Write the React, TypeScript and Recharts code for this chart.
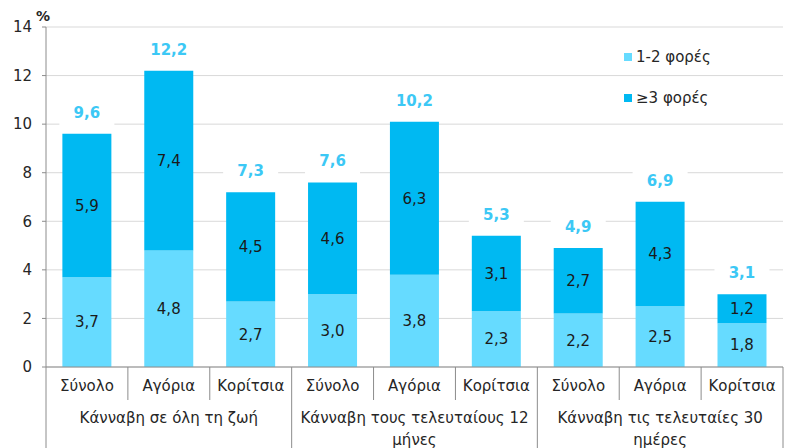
import {
  Bar,
  BarChart,
  CartesianGrid,
  LabelList,
  Legend,
  XAxis,
  YAxis,
} from "recharts";

const categories = [
  "Σύνολο", "Αγόρια", "Κορίτσια",
  "Σύνολο", "Αγόρια", "Κορίτσια",
  "Σύνολο", "Αγόρια", "Κορίτσια",
];
const groups = [
  ["Κάνναβη σε όλη τη ζωή"],
  ["Κάνναβη τους τελευταίους 12", "μήνες"],
  ["Κάνναβη τις τελευταίες 30", "ημέρες"],
];
const once = [3.7, 4.8, 2.7, 3.0, 3.8, 2.3, 2.2, 2.5, 1.8]; // 1-2 φορές
const often = [5.9, 7.4, 4.5, 4.6, 6.3, 3.1, 2.7, 4.3, 1.2]; // ≥3 φορές
const totals = [9.6, 12.2, 7.3, 7.6, 10.2, 5.3, 4.9, 6.9, 3.1];
const yTicks = [0, 2, 4, 6, 8, 10, 12, 14];

const series = [
  { key: "once", name: "1-2 φορές", color: "#66DBFF" },
  { key: "often", name: "≥3 φορές", color: "#00B9F2" },
];

const data = categories.map((name, i) => ({
  name,
  once: once[i],
  often: often[i],
  total: totals[i],
}));

const W = 788;
const H = 448;
const M = { top: 27, right: 5, left: 0, bottom: 0 };
const Y_W = 46;
const X1_H = 33;
const X2_H = 48;
const PLOT_BOTTOM = H - X1_H - X2_H;
const BAND = (W - Y_W - M.right - M.left) / categories.length;
const FONT = "'DejaVu Sans', sans-serif";
const TXT = "#262626";
const LINE = "#8c8c8c";

const fmt = (v: any) => Number(v).toFixed(1).replace(".", ",");

const SubTick = (props: any) => {
  const { x, index } = props;
  return (
    <g>
      {index % 3 !== 0 && (
        <line x1={x - BAND / 2} x2={x - BAND / 2} y1={PLOT_BOTTOM} y2={PLOT_BOTTOM + X1_H} stroke={LINE} />
      )}
      <text x={x} y={PLOT_BOTTOM + 19} textAnchor="middle" dominantBaseline="central" fontSize={15} fill={TXT}>
        {categories[index]}
      </text>
    </g>
  );
};

const GroupTick = (props: any) => {
  const { x, index } = props;
  const g = Math.floor(index / 3);
  return (
    <g>
      {index % 3 === 0 && (
        <line x1={x - BAND / 2} x2={x - BAND / 2} y1={PLOT_BOTTOM} y2={H} stroke={LINE} />
      )}
      {index === categories.length - 1 && (
        <line x1={x + BAND / 2} x2={x + BAND / 2} y1={PLOT_BOTTOM} y2={H} stroke={LINE} />
      )}
      {index % 3 === 1 &&
        groups[g].map((line, j) => (
          <text key={j} x={x} y={PLOT_BOTTOM + 51 + j * 22} textAnchor="middle" dominantBaseline="central" fontSize={15} fill={TXT}>
            {line}
          </text>
        ))}
    </g>
  );
};

const TotalLabel = (props: any) => {
  const { x, y, width, value } = props;
  const cx = x + width / 2;
  const cy = y - 21;
  return (
    <g>
      <rect x={cx - width / 2 - 3} y={cy - 12} width={width + 6} height={26} fill="#fff" />
      <text x={cx} y={cy} textAnchor="middle" dominantBaseline="central" fontSize={15} fontWeight="bold" fill="#3CC8F5">
        {fmt(value)}
      </text>
    </g>
  );
};

const LegendBox = () => (
  <div style={{ fontFamily: FONT, fontSize: 15, color: TXT }}>
    {series.map((s) => (
      <div key={s.key} style={{ display: "flex", alignItems: "center", height: 41 }}>
        <span style={{ width: 8, height: 8, background: s.color, marginRight: 4 }} />
        {s.name}
      </div>
    ))}
  </div>
);

export default function App() {
  return (
    <div style={{ position: "absolute", left: 0, top: 0, background: "#fff" }}>
      <BarChart width={W} height={H} data={data} margin={M} barCategoryGap="20%" style={{ fontFamily: FONT }}>
        <CartesianGrid vertical={false} stroke="#d9d9d9" />
        <XAxis dataKey="name" height={X1_H} interval={0} tickLine={false} axisLine={{ stroke: LINE }} tick={<SubTick />} />
        <XAxis xAxisId="grp" dataKey="name" height={X2_H} interval={0} tickLine={false} axisLine={false} tick={<GroupTick />} />
        <YAxis
          width={Y_W}
          domain={[0, 14]}
          ticks={yTicks}
          interval={0}
          tickSize={4}
          tickMargin={10}
          tickLine={{ stroke: LINE }}
          axisLine={{ stroke: LINE }}
          tick={{ fontSize: 15, fill: TXT }}
          label={{ value: "%", position: "top", offset: 6, dx: 20, fontSize: 14, fontWeight: "bold", fill: TXT }}
        />
        <Legend
          layout="horizontal"
          verticalAlign="middle"
          align="center"
          content={<LegendBox />}
          wrapperStyle={{ left: 624, top: 36, width: 150, height: 82 }}
        />
        <Bar dataKey="once" name={series[0].name} stackId="a" fill={series[0].color} isAnimationActive={false}>
          <LabelList dataKey="once" position="center" formatter={fmt} fontSize={15} fill="#1a1a1a" />
        </Bar>
        <Bar dataKey="often" name={series[1].name} stackId="a" fill={series[1].color} isAnimationActive={false}>
          <LabelList dataKey="often" position="center" formatter={fmt} fontSize={15} fill="#1a1a1a" />
          <LabelList dataKey="total" content={<TotalLabel />} />
        </Bar>
      </BarChart>
    </div>
  );
}
